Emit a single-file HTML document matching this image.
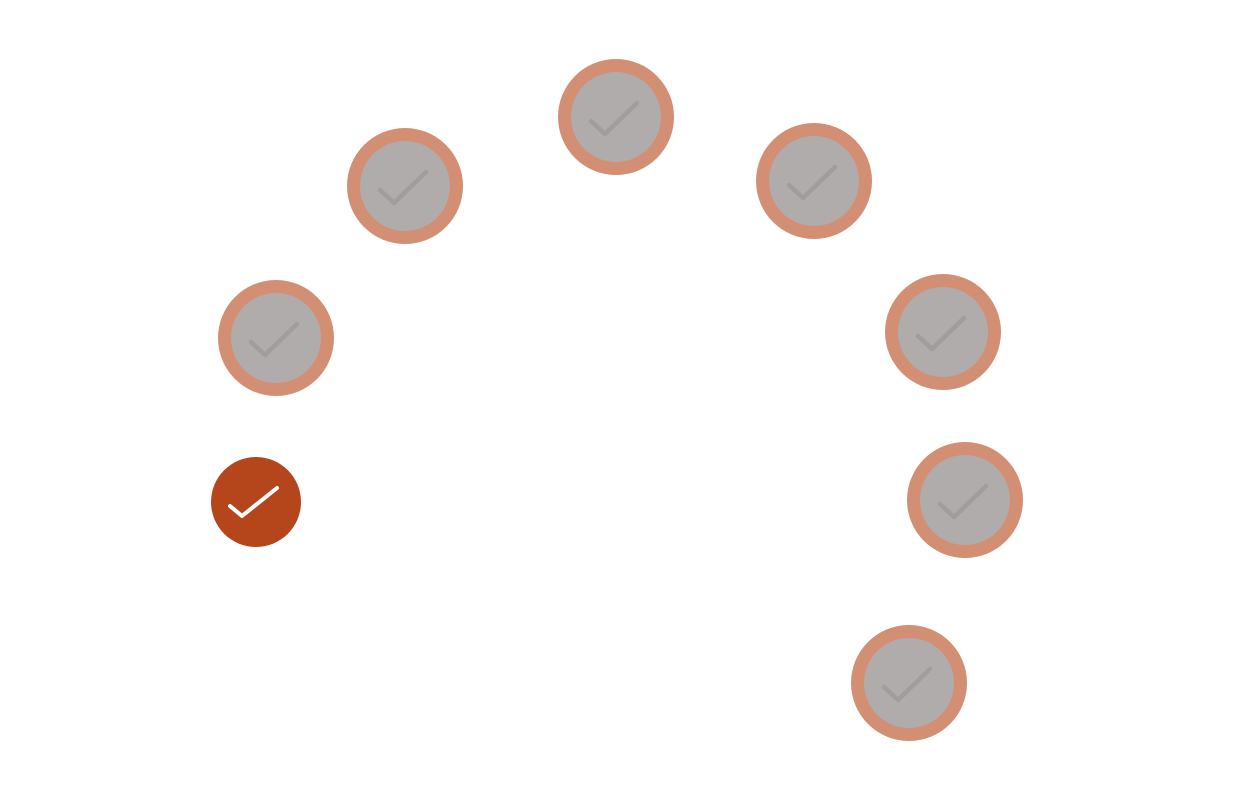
<!DOCTYPE html>
<html><head><meta charset="utf-8"><style>
html,body{margin:0;padding:0;background:#fff;}
svg{display:block;}
</style></head><body>
<svg width="1237" height="812" viewBox="0 0 1237 812" xmlns="http://www.w3.org/2000/svg">
<defs>
<g id="g">
<circle cx="0" cy="0" r="58" fill="#d38f73"/>
<circle cx="0" cy="0" r="45" fill="#b0acab"/>
<polyline points="-25,4 -11,17 21,-14" fill="none" stroke="#a29d9b" stroke-width="4.5" stroke-linecap="round" stroke-linejoin="round"/>
</g>
</defs>
<use href="#g" x="616" y="117"/>
<use href="#g" x="405" y="186"/>
<use href="#g" x="814" y="181"/>
<use href="#g" x="276" y="338"/>
<use href="#g" x="943" y="332"/>
<use href="#g" x="965" y="500"/>
<use href="#g" x="909" y="683"/>
<circle cx="256" cy="502" r="45" fill="#b5461b"/>
<polyline points="230,506 242,516 277,488" fill="none" stroke="#ffffff" stroke-width="4" stroke-linecap="round" stroke-linejoin="round"/>
</svg>
</body></html>
